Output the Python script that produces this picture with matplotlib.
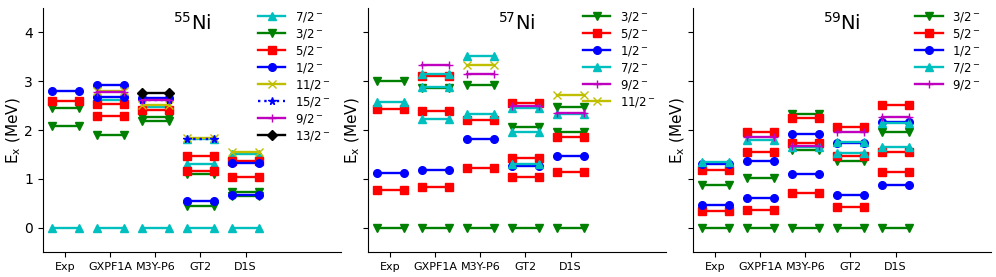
import matplotlib
matplotlib.use('Agg')
import matplotlib.pyplot as plt

# Models on the x axis
models = ['Exp', 'GXPF1A', 'M3Y-P6', 'GT2', 'D1S']

# Level energies (MeV) per spin, one list per model (Exp, GXPF1A, M3Y-P6, GT2, D1S)
ni55_levels = {
    '7/2': [[0.0], [0.0, 2.62], [0.0, 2.47], [0.0, 1.31, 1.81], [0.0, 1.51]],
    '3/2': [[2.09, 2.46], [1.89], [2.19, 2.26], [0.44, 1.10], [0.64, 0.73]],
    '5/2': [[2.59], [2.29, 2.54], [2.41], [1.17, 1.46], [1.03, 1.36]],
    '1/2': [[2.81], [2.67, 2.92], [2.66], [0.54], [0.67, 1.33]],
    '11/2': [[], [2.79], [2.51], [1.84], [1.55]],
    '15/2': [[], [], [2.62], [1.82], []],
    '9/2': [[], [2.78], [2.61], [], []],
    '13/2': [[], [], [2.76], [], []],
}

ni57_levels = {
    '3/2': [[0.0, 3.01], [0.0, 2.86], [0.0, 2.92], [0.0, 2.06], [0.0, 1.96, 2.48]],
    '5/2': [[0.77, 2.44], [0.83, 2.39, 3.10], [1.23, 2.21], [1.04, 1.42, 2.55], [1.14, 1.86]],
    '1/2': [[1.11], [1.18], [1.81], [1.27], [1.47]],
    '7/2': [[2.58], [2.23, 2.89, 3.14], [2.33, 3.51], [1.30, 1.96, 2.45], [2.33]],
    '9/2': [[], [3.33], [3.15], [2.50], [2.35]],
    '11/2': [[], [], [3.33], [], [2.72]],
}

ni59_levels = {
    '3/2': [[0.0, 0.88], [0.0, 1.01], [0.0, 1.59, 2.32], [0.0, 1.36], [0.0, 1.95]],
    '5/2': [[0.34, 1.19], [0.37, 1.55, 1.97], [0.71, 1.74, 2.24], [0.43, 1.46, 2.07], [1.15, 1.55, 2.52]],
    '1/2': [[0.47, 1.30], [0.60, 1.37], [1.10, 1.91], [0.66, 1.74], [0.87, 2.16]],
    '7/2': [[1.34], [1.80], [1.66], [1.52, 1.75], [1.66, 2.15]],
    '9/2': [[], [1.85], [1.67], [1.95], [2.27]],
}

nuclei = ['55', '57', '59']

# line style per spin: colour, marker, linestyle
styles = {
    '7/2': ('c', '^', '-'),
    '3/2': ('g', 'v', '-'),
    '5/2': ('r', 's', '-'),
    '1/2': ('b', 'o', '-'),
    '11/2': ('y', 'x', '-'),
    '15/2': ('b', '*', ':'),
    '9/2': ('m', '+', '-'),
    '13/2': ('k', 'D', '-'),
}

fig, axes = plt.subplots(1, 3, figsize=(9.96, 2.77), dpi=100, sharey=True)
fig.subplots_adjust(left=0.043, right=0.995, bottom=0.09, top=0.971, wspace=0.09)

half = 0.3
for ax, mass, levels in zip(axes, nuclei, [ni55_levels, ni57_levels, ni59_levels]):
    for spin, per_model in levels.items():
        c, m, ls = styles[spin]
        first = True
        for i, energies in enumerate(per_model):
            for e in energies:
                ax.plot([i - half, i + half], [e, e], color=c, marker=m, ls=ls,
                        lw=1.7, ms=5.5, label=f'{spin}$^-$' if first else None)
                first = False
    ax.set_xticks(range(len(models)))
    ax.set_xticklabels(models, fontsize=8)
    ax.set_xlim(-0.5, 6.12)
    ax.set_ylim(-0.5, 4.5)
    ax.set_yticks([0, 1, 2, 3, 4])
    ax.tick_params(axis='y', labelsize=10)
    ax.set_ylabel('E$_\\mathrm{x}$ (MeV)', fontsize=11, labelpad=1)
    ax.spines['top'].set_visible(False)
    ax.spines['right'].set_visible(False)
    ax.text(0.5, 0.94, f'$^{{{mass}}}$Ni', transform=ax.transAxes,
            ha='center', va='center', fontsize=14)
    ax.legend(loc='upper right', bbox_to_anchor=(1.0, 1.035), frameon=False,
              fontsize=8.5, labelspacing=0.25, handlelength=2.3)

plt.savefig('out.png', dpi=100)
